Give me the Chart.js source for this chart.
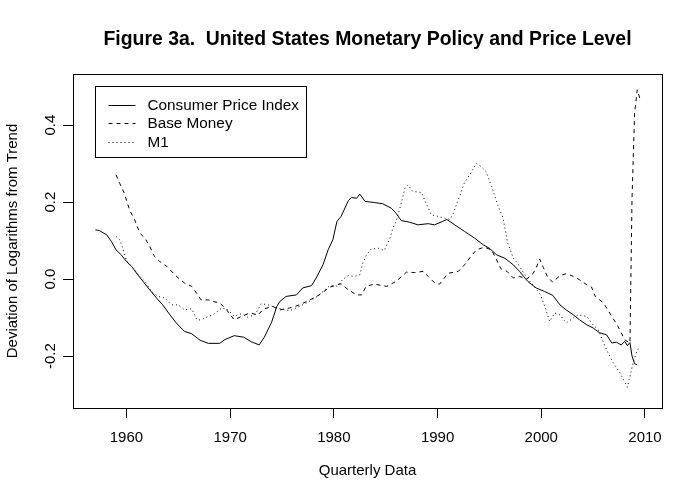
<!DOCTYPE html>
<html>
<head>
<meta charset="utf-8">
<title>Figure 3a</title>
<script src="https://cdn.jsdelivr.net/npm/chart.js@4/dist/chart.umd.min.js"></script>
<style>
  html, body { margin: 0; padding: 0; background: #fff; }
  #wrap { width: 700px; height: 500px; }
</style>
</head>
<body>
<div id="wrap"><canvas id="chart" width="700" height="500"></canvas></div>
<script>
const chartTitle = "Figure 3a.  United States Monetary Policy and Price Level";
const xTitle = "Quarterly Data";
const yTitle = "Deviation of Logarithms from Trend";
const seriesNames = ["Consumer Price Index", "Base Money", "M1"];

const xTicks = [1960, 1970, 1980, 1990, 2000, 2010];
const yTicks = [-0.2, 0.0, 0.2, 0.4];
const yTickLabels = ["-0.2", "0.0", "0.2", "0.4"];
const xRange = [1954.85, 2011.64];
const yRange = [-0.335, 0.533];

const cpiYears = [1957.0,1957.4,1958.1,1958.55,1959.0,1959.5,1960.0,1960.5,1961.1,1961.6,1962.25,1962.9,1963.5,1964.2,1964.8,1965.6,1966.3,1967.1,1967.9,1969.0,1969.5,1970.4,1971.3,1972.05,1972.8,1973.3,1974.0,1974.5,1974.8,1975.4,1976.4,1977.0,1977.85,1978.3,1978.95,1979.45,1979.9,1980.3,1980.7,1981.4,1981.7,1982.2,1982.5,1983.0,1983.9,1984.7,1985.55,1986.0,1986.5,1987.3,1988.1,1989.1,1989.7,1990.5,1990.9,1991.65,1992.6,1993.6,1994.4,1995.0,1995.7,1996.5,1997.3,1997.9,1998.7,1999.5,2000.3,2001.1,2001.8,2002.4,2003.1,2003.7,2004.4,2005.0,2005.6,2006.3,2006.8,2007.25,2007.7,2008.05,2008.3,2008.55,2008.75,2009.0,2009.25];
const cpiValues = [0.128,0.126,0.115,0.098,0.076,0.063,0.046,0.033,0.011,-0.006,-0.028,-0.049,-0.067,-0.093,-0.114,-0.136,-0.142,-0.159,-0.167,-0.167,-0.157,-0.147,-0.151,-0.163,-0.171,-0.151,-0.112,-0.071,-0.058,-0.045,-0.041,-0.023,-0.017,0.003,0.037,0.076,0.102,0.150,0.163,0.204,0.212,0.210,0.221,0.202,0.199,0.196,0.184,0.171,0.152,0.148,0.141,0.144,0.141,0.150,0.155,0.141,0.124,0.106,0.089,0.080,0.063,0.054,0.037,0.020,-0.006,-0.023,-0.032,-0.042,-0.067,-0.080,-0.093,-0.106,-0.119,-0.127,-0.139,-0.145,-0.166,-0.164,-0.171,-0.162,-0.173,-0.165,-0.200,-0.220,-0.223];

const baseYears = [1959.0,1959.35,1959.8,1960.3,1960.8,1961.3,1961.8,1962.25,1962.7,1963.2,1963.9,1964.5,1965.0,1965.6,1966.3,1966.75,1967.2,1967.9,1968.35,1969.0,1969.6,1970.4,1971.1,1971.9,1972.7,1973.2,1974.1,1974.8,1975.75,1976.7,1977.7,1978.6,1979.6,1980.7,1981.4,1982.2,1982.7,1983.1,1983.9,1985.1,1986.0,1987.0,1987.8,1988.6,1989.1,1989.8,1990.2,1991.0,1992.0,1992.6,1993.3,1993.75,1994.5,1995.2,1995.6,1996.1,1996.7,1997.3,1997.9,1998.6,1999.2,1999.5,1999.85,2000.2,2000.6,2001.1,2001.8,2002.4,2003.1,2003.7,2004.4,2004.85,2005.2,2006.0,2006.8,2007.4,2008.05,2008.55,2008.75,2009.0,2009.25,2009.5];
const baseValues = [0.271,0.249,0.223,0.180,0.154,0.119,0.106,0.085,0.059,0.046,0.033,0.016,0.003,-0.010,-0.019,-0.036,-0.054,-0.054,-0.058,-0.062,-0.078,-0.106,-0.097,-0.088,-0.093,-0.078,-0.071,-0.080,-0.075,-0.067,-0.054,-0.041,-0.021,-0.012,-0.028,-0.041,-0.041,-0.019,-0.013,-0.019,-0.006,0.018,0.017,0.020,0.007,-0.012,-0.013,0.015,0.020,0.037,0.062,0.076,0.083,0.076,0.055,0.027,0.020,0.003,0.007,0.000,0.014,0.029,0.052,0.030,0.006,-0.008,0.009,0.014,0.007,-0.002,-0.015,-0.021,-0.045,-0.062,-0.097,-0.123,-0.158,-0.166,0.210,0.431,0.492,0.470];

const m1Years = [1959.0,1959.35,1959.7,1960.0,1960.5,1961.3,1961.9,1962.4,1963.05,1963.7,1964.35,1965.0,1965.6,1966.3,1966.8,1967.2,1967.9,1968.35,1969.2,1969.8,1970.4,1971.1,1971.7,1972.4,1973.0,1973.65,1974.3,1974.95,1975.75,1976.7,1977.35,1978.2,1978.8,1979.6,1980.3,1980.9,1981.4,1982.0,1982.5,1982.8,1983.15,1983.6,1984.3,1984.85,1985.4,1985.7,1986.05,1986.5,1986.85,1987.15,1987.6,1988.45,1988.9,1989.4,1990.05,1990.7,1991.2,1991.5,1992.0,1992.6,1993.1,1993.75,1994.2,1994.7,1995.2,1995.8,1996.3,1996.75,1997.3,1997.8,1998.3,1998.9,1999.4,1999.9,2000.35,2000.8,2001.3,2001.8,2002.4,2003.1,2003.55,2004.4,2005.0,2005.5,2006.0,2006.45,2006.95,2007.6,2008.3,2008.55,2008.85,2009.2,2009.5];
const m1Values = [0.111,0.102,0.076,0.048,0.033,0.007,-0.010,-0.032,-0.045,-0.049,-0.067,-0.067,-0.080,-0.077,-0.106,-0.106,-0.097,-0.093,-0.075,-0.080,-0.097,-0.090,-0.099,-0.093,-0.064,-0.067,-0.073,-0.078,-0.082,-0.071,-0.062,-0.049,-0.036,-0.017,-0.018,0.000,0.009,0.007,0.011,0.042,0.063,0.078,0.080,0.074,0.106,0.132,0.154,0.197,0.236,0.245,0.228,0.225,0.197,0.167,0.163,0.158,0.155,0.170,0.206,0.251,0.271,0.301,0.292,0.279,0.241,0.193,0.160,0.095,0.055,0.038,0.016,-0.006,-0.022,-0.040,-0.071,-0.110,-0.088,-0.093,-0.114,-0.101,-0.093,-0.097,-0.119,-0.132,-0.166,-0.192,-0.218,-0.244,-0.281,-0.253,-0.218,-0.188,-0.175];

const FONT = "'Liberation Sans', Arial, sans-serif";
Chart.defaults.font.family = FONT;
Chart.defaults.color = "#000";

const toPoints = (xs, ys) => xs.map((x, i) => ({ x: x, y: ys[i] }));

const lineDataset = (label, xs, ys, dash) => ({
  label: label,
  data: toPoints(xs, ys),
  borderColor: "#000",
  borderWidth: 1,
  borderDash: dash,
  pointRadius: 0,
  fill: false,
  tension: 0
});

/* R-style extras: title over the plot, box, rotated y tick labels, legend */
const rDecor = {
  id: "rDecor",
  afterDraw(chart) {
    const { ctx, chartArea: a, scales } = chart;
    ctx.save();
    ctx.fillStyle = "#000";
    ctx.strokeStyle = "#000";
    ctx.lineWidth = 1;

    // main title, centred on the plot region
    ctx.font = "bold 19.4px " + FONT;
    ctx.textAlign = "center";
    ctx.textBaseline = "alphabetic";
    ctx.fillText(chartTitle, (a.left + a.right) / 2, 45);

    ctx.strokeRect(Math.round(a.left) + 0.5, Math.round(a.top) + 0.5,
      Math.round(a.right - a.left), Math.round(a.bottom - a.top));

    // y tick labels, reading bottom to top
    ctx.font = "15px " + FONT;
    yTicks.forEach((v, i) => {
      const py = scales.y.getPixelForValue(v);
      ctx.save();
      ctx.translate(a.left - 18, py);
      ctx.rotate(-Math.PI / 2);
      ctx.fillText(yTickLabels[i], 0, 0);
      ctx.restore();
    });

    // legend
    ctx.font = "15.3px " + FONT;
    const names = chart.data.datasets.map(d => d.label);
    const textW = Math.max(...names.map(n => ctx.measureText(n).width));
    const bx = Math.round(a.left + 22) + 0.5;
    const by = Math.round(a.top + 12) + 0.5;
    const bw = Math.round(52 + textW + 8);
    const bh = 71;
    ctx.fillStyle = "#fff";
    ctx.fillRect(bx, by, bw, bh);
    ctx.strokeRect(bx, by, bw, bh);
    ctx.textAlign = "left";
    ctx.textBaseline = "middle";
    ctx.fillStyle = "#000";
    chart.data.datasets.forEach((d, i) => {
      const ry = Math.round(by + 18.5 + i * 18.4) + 0.5;
      ctx.setLineDash(d.borderDash || []);
      ctx.beginPath();
      ctx.moveTo(bx + 13, ry);
      ctx.lineTo(bx + 40, ry);
      ctx.stroke();
      ctx.setLineDash([]);
      ctx.fillText(d.label, bx + 52, ry);
    });
    ctx.restore();
  }
};

new Chart(document.getElementById("chart"), {
  type: "line",
  data: {
    datasets: [
      lineDataset(seriesNames[0], cpiYears, cpiValues, []),
      lineDataset(seriesNames[1], baseYears, baseValues, [4, 4]),
      lineDataset(seriesNames[2], m1Years, m1Values, [1, 3])
    ]
  },
  options: {
    responsive: false,
    animation: false,
    devicePixelRatio: 1,
    layout: { padding: { left: 0, right: 38, top: 74, bottom: 0 } },
    scales: {
      x: {
        type: "linear",
        min: xRange[0],
        max: xRange[1],
        afterBuildTicks: scale => { scale.ticks = xTicks.map(v => ({ value: v })); },
        grid: { drawOnChartArea: false, drawTicks: true, tickLength: 10, color: "#000", lineWidth: 1 },
        border: { display: true, color: "#000", width: 1 },
        ticks: { color: "#000", font: { size: 15 }, padding: 10.5, maxRotation: 0, callback: v => String(v) },
        title: { display: true, text: xTitle, color: "#000", font: { size: 15 }, padding: { top: 5, bottom: 20 } }
      },
      y: {
        type: "linear",
        min: yRange[0],
        max: yRange[1],
        afterBuildTicks: scale => { scale.ticks = yTicks.map(v => ({ value: v })); },
        grid: { drawOnChartArea: false, drawTicks: true, tickLength: 10, color: "#000", lineWidth: 1 },
        border: { display: true, color: "#000", width: 1 },
        ticks: { display: false },
        title: { display: true, text: yTitle, color: "#000", font: { size: 15 }, padding: { top: 3.5, bottom: 41.5 } }
      }
    },
    plugins: {
      legend: { display: false },
      tooltip: { enabled: false },
      title: { display: false }
    }
  },
  plugins: [rDecor]
});
</script>
</body>
</html>
